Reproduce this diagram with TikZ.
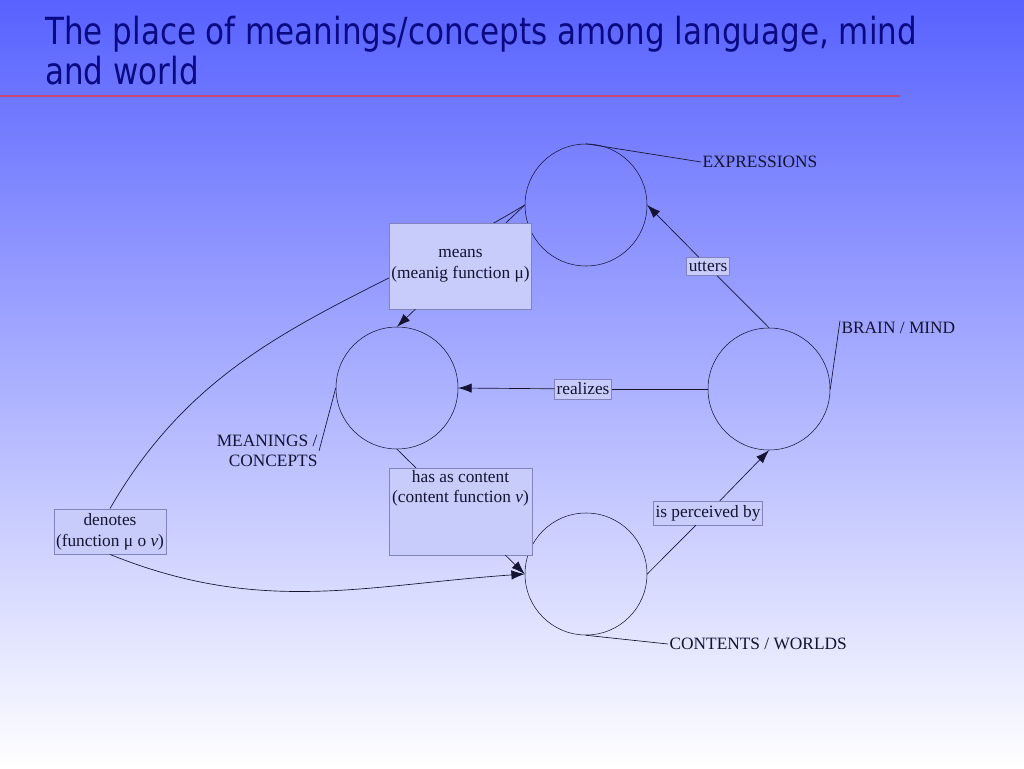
\documentclass[tikz,border=0pt]{standalone}
\usepackage{fontspec}
\setmainfont{Liberation Serif}
\newfontfamily\titlefont[FakeStretch=0.83]{DejaVu Sans}
\usetikzlibrary{arrows.meta}
\usetikzlibrary{positioning}
\usetikzlibrary{backgrounds}
\definecolor{bgtop}{RGB}{88,98,255}
\definecolor{titleblue}{RGB}{10,10,130}
\definecolor{rulered}{RGB}{200,70,110}
\definecolor{boxfill}{RGB}{200,204,250}
\definecolor{boxline}{RGB}{130,130,190}
\definecolor{ink}{RGB}{20,20,50}
\tikzset{
	sphere/.style={circle, draw=ink, minimum size=91.5pt, inner sep=0pt},
	tag/.style={font=\fontsize{13}{15.5}\selectfont, text=ink, inner sep=1pt},
	labelbox/.style={rectangle, draw=boxline, fill=boxfill, align=center, font=\fontsize{13}{15.5}\selectfont, text=ink, inner xsep=1.5pt, inner ysep=3pt},
	link/.style={draw=ink, line width=0.5pt},
	arrow/.style={link, -{Latex[length=10pt,width=7pt]}}
}

\begin{document}
\begin{tikzpicture}[x=0.75pt, y=0.75pt]
\useasboundingbox (0,0) rectangle (1024,-768);

\node[anchor=base west, align=left, text=titleblue, inner sep=0pt,
	font=\titlefont\fontsize{28}{30}\selectfont] (title) at (45,-84)
	{The place of meanings/concepts among language, mind\\and world};
\draw[rulered, line width=2.2pt] (0,-96) -- (900,-96);

\node[sphere] (expr) at (586,-205) {};
\node[sphere] (mean) at (397,-388) {};
\node[sphere] (brain) at (769,-389) {};
\node[sphere] (world) at (586,-574) {};

\node[tag, anchor=west] (exprtag) at (701,-162) {EXPRESSIONS};
\node[tag, anchor=west] (braintag) at (840,-328) {BRAIN / MIND};
\node[tag, anchor=east, align=right] (meantag) at (319,-451) {MEANINGS /\\CONCEPTS};
\node[tag, anchor=west] (worldtag) at (668,-644) {CONTENTS / WORLDS};

\node[labelbox, minimum width=106pt, minimum height=64.5pt] (means) at (460.5,-266)
	{means\\(meanig function μ)};
\node[labelbox, inner ysep=1.5pt] (content) at (460.5,-511.5)
	{\parbox[c][62pt][t]{104pt}{\centering has as content\\(content function \textit{v})}};
\node[labelbox, minimum height=34pt] (denotes) at (110,-531.5) {denotes\\(function μ o \textit{v})};
\node[labelbox] (realizes) at (583,-389) {realizes};
\node[labelbox] (utters) at (708,-266.5) {utters};
\node[labelbox] (perceived) at (708,-513) {is perceived by};

\begin{scope}[on background layer]
\shade[top color=bgtop, bottom color=white] (0,0) rectangle (1024,-768);
\draw[link] (expr.west) to[out=211, in=60] (denotes.north);
\end{scope}

\draw[link] (expr.north) -- (exprtag.west);
\draw[link] (brain.east) -- (braintag.north west);
\draw[link] (mean.west) -- (meantag.east);
\draw[link] (world.south) -- (worldtag.west);

\draw[link] (expr.west) -- (means);
\draw[arrow] (means) -- (mean.north);
\draw[arrow] (denotes.south) to[out=-22, in=184] (world.west);
\draw[link] (mean.south) -- (content);
\draw[arrow] (content) -- (world.west);
\draw[link] (brain.west) -- (realizes);
\draw[arrow] (realizes) -- (mean.east);
\draw[link] (brain.north) -- (utters);
\draw[arrow] (utters) -- (expr.east);
\draw[link] (world.east) -- (perceived);
\draw[arrow] (perceived) -- (brain.south);

\end{tikzpicture}
\end{document}
